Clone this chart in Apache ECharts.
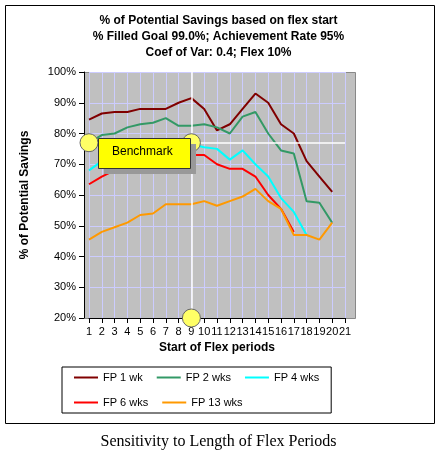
<!DOCTYPE html><html><head><meta charset="utf-8"><script src="https://cdn.jsdelivr.net/npm/echarts@6/dist/echarts.min.js"></script>
<style>body{margin:0;background:#fff}#c{width:437px;height:459px}</style></head><body><div id="c"></div><script>
const xs=[1,2,3,4,5,6,7,8,9,10,11,12,13,14,15,16,17,18,19,20];
const fp1=[84.5,86.5,87,87,88,88,88,90,91.5,88,81,83,88,93,90,83,80,71,66,61];
const fp2=[77,79.5,80,82,83,83.5,85,82.5,82.5,83,82,80,85.5,87,80,74.5,73.5,58,57.5,51];
const fp4=[68,71,72,73,74,75,77,75.5,76.5,75.5,75,71.5,74.5,70,66,59,54.5,47];
const fp6=[63.5,66,68,70,71,72,73,73,73,73,70,68.5,68.5,66,60,55.5,48];
const fp13=[45.5,48,49.5,51,53.5,54,57,57,57,58,56.5,58,59.5,62,58,55.5,47,47,45.5,51];
const names=['FP 1 wk','FP 2 wks','FP 4 wks','FP 6 wks','FP 13 wks'];
const colors=['#800000','#339966','#00ffff','#ff0000','#ff9900'];
const bench=77, benchX=9;
const all=[fp1,fp2,fp4,fp6,fp13];
const ch=echarts.init(document.getElementById('c'));
const series=all.map((d,i)=>({name:names[i],type:'line',data:d.map((v,j)=>[xs[j],v]),showSymbol:false,lineStyle:{color:colors[i],width:2},itemStyle:{color:colors[i]},z:3}));
series.push({type:'line',data:[],markLine:{silent:true,symbol:'none',label:{show:false},lineStyle:{color:'#fff',type:'solid',width:1.5},data:[{yAxis:bench},{xAxis:benchX}]},
 markPoint:{symbol:'circle',symbolSize:18,label:{show:false},itemStyle:{color:'#ffff66',borderColor:'#666',borderWidth:1},data:[{coord:[1,bench]},{coord:[benchX,bench]},{coord:[benchX,20]}]},z:4});
ch.setOption({animation:false,
 graphic:[{type:'rect',left:3,top:3,shape:{width:429,height:418},style:{fill:'none',stroke:'#000',lineWidth:1}},
  {type:'rect',left:84,top:72,shape:{width:271,height:246},style:{fill:'#c0c0c0',stroke:'#888'},z:-10},
  {type:'rect',left:104,top:144,shape:{width:92,height:30},style:{fill:'#999'},z:10},
  {type:'rect',left:98,top:138,shape:{width:92,height:30},style:{fill:'#ffff00',stroke:'#333',lineWidth:1},z:11},
  {type:'text',left:112,top:146,style:{text:'Benchmark',font:'12px Arial',fill:'#000'},z:12},
  {type:'text',left:'center',top:434,style:{text:'Sensitivity to Length of Flex Periods',font:'16px "Liberation Serif"',fill:'#000'}}],
 title:{text:'% of Potential Savings based on flex start\n% Filled Goal 99.0%; Achievement Rate 95%\nCoef of Var: 0.4; Flex 10%',left:'center',top:8,textStyle:{fontSize:12,fontWeight:'bold',fontFamily:'Arial',lineHeight:16,color:'#000'}},
 legend:{data:names,left:62,top:367,width:298,height:40,itemWidth:24,itemHeight:2,itemGap:14,icon:'rect',padding:[5,12,5,12],borderColor:'#000',borderWidth:1,textStyle:{fontSize:11,fontFamily:'Arial',color:'#000',width:66}},
 grid:{left:89,right:92,top:72,bottom:141,show:false},
 xAxis:{type:'value',min:1,max:21,interval:1,name:'Start of Flex periods',nameLocation:'middle',nameGap:24,nameTextStyle:{fontWeight:'bold',fontSize:12,fontFamily:'Arial'},
  axisLabel:{fontSize:11,color:'#000'},axisLine:{onZero:false,lineStyle:{color:'#000'}},axisTick:{show:true},splitLine:{show:true,lineStyle:{color:'#ccccff'}}},
 yAxis:{type:'value',min:20,max:100,interval:10,name:'% of Potential Savings',nameLocation:'middle',nameGap:53,nameTextStyle:{fontWeight:'bold',fontSize:12,fontFamily:'Arial'},offset:5,
  axisLabel:{fontSize:11,color:'#000',formatter:'{value}%'},axisLine:{show:true,lineStyle:{color:'#000'}},axisTick:{show:true},splitLine:{lineStyle:{color:'#ccccff'}}},
 series});
</script></body></html>
